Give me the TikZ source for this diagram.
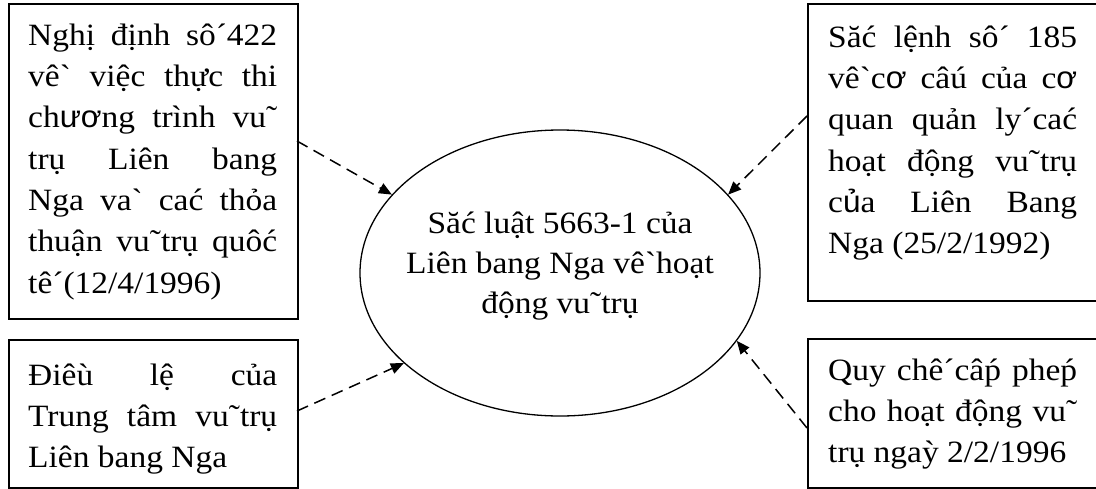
\documentclass[tikz,border=0pt]{standalone}
\usepackage{fontspec}
\usetikzlibrary{arrows.meta,shapes.geometric}
\newfontfamily\vnserif{Liberation Serif}[FakeStretch=1.08]
\newfontfamily\vnsans{Liberation Sans}[FakeStretch=1.02]
\newcommand{\sv}[1]{{\vnsans #1}}
\newcommand{\jl}[1]{\makebox[249pt][s]{\spaceskip=0pt\xspaceskip=0pt #1}\\}
\setlength{\parindent}{0pt}
\tikzset{
  box/.style={draw, line width=2pt, inner sep=0pt, anchor=north west},
  txt/.style={anchor=north west, inner sep=0pt, text width=249pt, align=justify,
    font={\vnserif\fontsize{31}{41.3}\selectfont\spaceskip=0pt\xspaceskip=0pt}},
  etxt/.style={anchor=north, inner sep=0pt, align=center,
    font={\vnserif\fontsize{31}{40}\selectfont\spaceskip=0pt\xspaceskip=0pt}},
  ell/.style={draw, ellipse, line width=1.3pt, inner sep=0pt,
    minimum width=400pt, minimum height=286pt},
  arr/.style={line width=1.5pt, dash pattern=on 12pt off 7pt,
    -{Triangle[length=13pt,width=11pt]}}
}
\begin{document}
\begin{tikzpicture}[x=1pt,y=-1pt]
\useasboundingbox (0,0) rectangle (1096,488);
% boxes
\node[box, minimum width=289pt, minimum height=315pt] (tl) at (8,3) {};
\node[box, minimum width=289pt, minimum height=148pt] (bl) at (8,339) {};
\node[box, minimum width=293pt, minimum height=297pt] (tr) at (807,3) {};
\node[box, minimum width=293pt, minimum height=149pt] (br) at (807,338) {};
% texts
\node[txt] (tlt) at (28,16.1) {\strut\jl{Nghị định sô´422}\jl{vê` việc thực thi}\jl{ch\sv{ươ}ng trình vu˜}\jl{trụ Liên bang}\jl{Nga va` cać thỏa}\jl{thuận vu˜trụ quôć}tê´(12/4/1996)};
\node[txt] (blt) at (28,356.1) {\strut\jl{Điêù lệ của}\jl{Trung tâm vu˜trụ}Liên bang Nga};
\node[txt] (trt) at (828,18.1) {\strut\jl{Săć lệnh sô´ 185}\jl{vê`c\sv{ơ} câú của c\sv{ơ}}\jl{quan quản ly´cać}\jl{hoạt động vu˜trụ}\jl{c\sv{ủ}a Liên Bang}Nga (25/2/1992)};
\node[txt] (brt) at (828,351.1) {\strut\jl{Quy chê´câṕ pheṕ}\jl{cho hoạt động vu˜}trụ ngaỳ 2/2/1996};
% ellipse
\node[ell] (e) at (560,273) {};
\node[etxt] (et) at (560,205) {\strut Săć luật 5663-1 của\\Liên bang Nga vê`hoạt\\động vu˜trụ};
% arrows
\coordinate (s1) at (297,141);
\coordinate (s2) at (807,116);
\coordinate (s3) at (297,411);
\coordinate (s4) at (807,428);
\draw[arr] (s1) -- (e.155);
\draw[arr] (s2) -- (e.25);
\draw[arr] (s3) -- (e.210);
\draw[arr] (s4) -- (e.339);
\end{tikzpicture}
\end{document}
